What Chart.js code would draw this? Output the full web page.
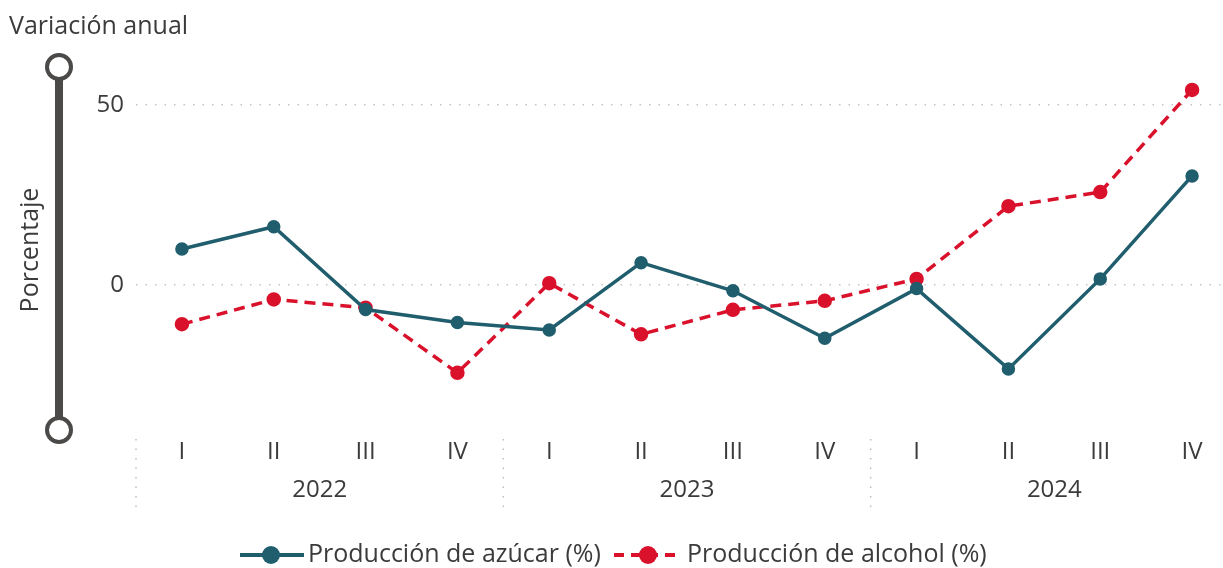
<!DOCTYPE html>
<html>
<head>
<meta charset="utf-8">
<script src="https://cdn.jsdelivr.net/npm/chart.js@4.4.0/dist/chart.umd.min.js"></script>
<style>
html, body { margin: 0; padding: 0; background: #fff; overflow: hidden; }
#wrap { width: 1238px; height: 568px; position: relative; }
</style>
</head>
<body>
<div id="wrap"><canvas id="grafico" width="1238" height="568"></canvas></div>
<script>
// datos
var trimestres = ["I", "II", "III", "IV", "I", "II", "III", "IV", "I", "II", "III", "IV"];
var anios = ["2022", "2023", "2024"];
var azucar = [10.0, 16.2, -6.8, -10.4, -12.5, 6.2, -1.6, -14.8, -1.0, -23.3, 1.7, 30.3];
var alcohol = [-10.9, -4.0, -6.3, -24.4, 0.5, -13.7, -6.9, -4.4, 1.7, 21.9, 25.8, 54.2];
var ticksY = [0, 50];

var AZUL = "#205E6E";
var ROJO = "#D9112B";
var TEXTO = "#3b3b3b";
var FUENTE = "'Open Sans', 'Noto Sans', sans-serif";

// titulo, slider del eje, etiqueta del eje, anios y leyenda
var decoracion = {
	id: 'decoracion',
	afterDraw: function(chart) {
		var ctx = chart.ctx;
		var area = chart.chartArea;
		ctx.save();

		ctx.fillStyle = TEXTO;
		ctx.font = "25px " + FUENTE;
		ctx.textAlign = "left";
		ctx.textBaseline = "alphabetic";
		ctx.fillText("Variación anual", 9, 34);

		// slider
		ctx.strokeStyle = "#4B4A48";
		ctx.lineWidth = 8;
		ctx.beginPath();
		ctx.moveTo(59, 79);
		ctx.lineTo(59, 418);
		ctx.stroke();
		ctx.lineWidth = 4;
		ctx.fillStyle = "#fff";
		[67, 430].forEach(function(cy) {
			ctx.beginPath();
			ctx.arc(59, cy, 12, 0, Math.PI * 2);
			ctx.fill();
			ctx.stroke();
		});

		// titulo del eje
		ctx.save();
		ctx.translate(31, 250);
		ctx.rotate(-Math.PI / 2);
		ctx.fillStyle = TEXTO;
		ctx.font = "25px " + FUENTE;
		ctx.textAlign = "center";
		ctx.textBaseline = "middle";
		ctx.fillText("Porcentaje", 0, 0);
		ctx.restore();

		// grupos de anios
		var x = chart.scales.x;
		var paso = (area.right - area.left) / trimestres.length;
		ctx.strokeStyle = "#bdbdbd";
		ctx.lineWidth = 1.5;
		ctx.setLineDash([1.5, 8]);
		for (var i = 0; i < anios.length; i++) {
			var x0 = area.left + i * 4 * paso;
			ctx.beginPath();
			ctx.moveTo(x0, 439);
			ctx.lineTo(x0, 512);
			ctx.stroke();
			ctx.fillStyle = TEXTO;
			ctx.font = "24px " + FUENTE;
			ctx.textAlign = "center";
			ctx.textBaseline = "middle";
			ctx.fillText(anios[i], (x.getPixelForValue(i * 4) + x.getPixelForValue(i * 4 + 3)) / 2, 490);
		}
		ctx.setLineDash([]);

		// leyenda
		var ly = 555;
		ctx.lineWidth = 4;
		ctx.strokeStyle = AZUL;
		ctx.beginPath();
		ctx.moveTo(240, ly);
		ctx.lineTo(304, ly);
		ctx.stroke();
		ctx.fillStyle = AZUL;
		ctx.beginPath();
		ctx.arc(271, ly, 9, 0, Math.PI * 2);
		ctx.fill();
		ctx.strokeStyle = ROJO;
		ctx.setLineDash([10, 7]);
		ctx.beginPath();
		ctx.moveTo(614, ly);
		ctx.lineTo(682, ly);
		ctx.stroke();
		ctx.setLineDash([]);
		ctx.fillStyle = ROJO;
		ctx.beginPath();
		ctx.arc(648, ly, 9, 0, Math.PI * 2);
		ctx.fill();
		ctx.fillStyle = TEXTO;
		ctx.font = "25px " + FUENTE;
		ctx.textAlign = "left";
		ctx.textBaseline = "middle";
		ctx.fillText("Producción de azúcar (%)", 308, ly);
		ctx.fillText("Producción de alcohol (%)", 687, ly);

		ctx.restore();
	}
};

function exibirGrafico() {
	var data = {
		labels: trimestres,
		datasets: [
			{
				label: "Producción de azúcar (%)",
				data: azucar,
				borderColor: AZUL,
				backgroundColor: AZUL,
				borderWidth: 3.5,
				pointRadius: 5,
				pointHoverRadius: 5,
				tension: 0
			},
			{
				label: "Producción de alcohol (%)",
				data: alcohol,
				borderColor: ROJO,
				backgroundColor: ROJO,
				borderWidth: 3.5,
				borderDash: [11, 7],
				pointRadius: 5.5,
				pointHoverRadius: 5.5,
				tension: 0
			}
		]
	};

	var options = {
		responsive: false,
		maintainAspectRatio: false,
		animation: false,
		layout: { autoPadding: false, padding: { top: 69, right: 0, left: 0, bottom: 0 } },
		plugins: {
			legend: { display: false },
			title: { display: false },
			tooltip: { enabled: false }
		},
		scales: {
			x: {
				offset: true,
				grid: { display: false, drawTicks: false },
				border: { display: false },
				ticks: {
					color: TEXTO,
					font: { family: FUENTE, size: 24 },
					padding: 9,
					maxRotation: 0,
					autoSkip: false
				},
				afterFit: function(s) { s.height = 139; }
			},
			y: {
				min: -40,
				max: 60,
				afterBuildTicks: function(s) {
					s.ticks = ticksY.map(function(v) { return { value: v }; });
				},
				grid: {
					color: "#c4c4c4",
					lineWidth: 1.5,
					drawTicks: false
				},
				border: { display: false, dash: [1.5, 8] },
				ticks: {
					color: TEXTO,
					font: { family: FUENTE, size: 24 },
					padding: 12
				},
				afterFit: function(s) { s.width = 136; }
			}
		}
	};

	var ctx = document.getElementById("grafico").getContext("2d");
	new Chart(ctx, { type: 'line', data: data, options: options, plugins: [decoracion] });
}

exibirGrafico();
</script>
</body>
</html>
